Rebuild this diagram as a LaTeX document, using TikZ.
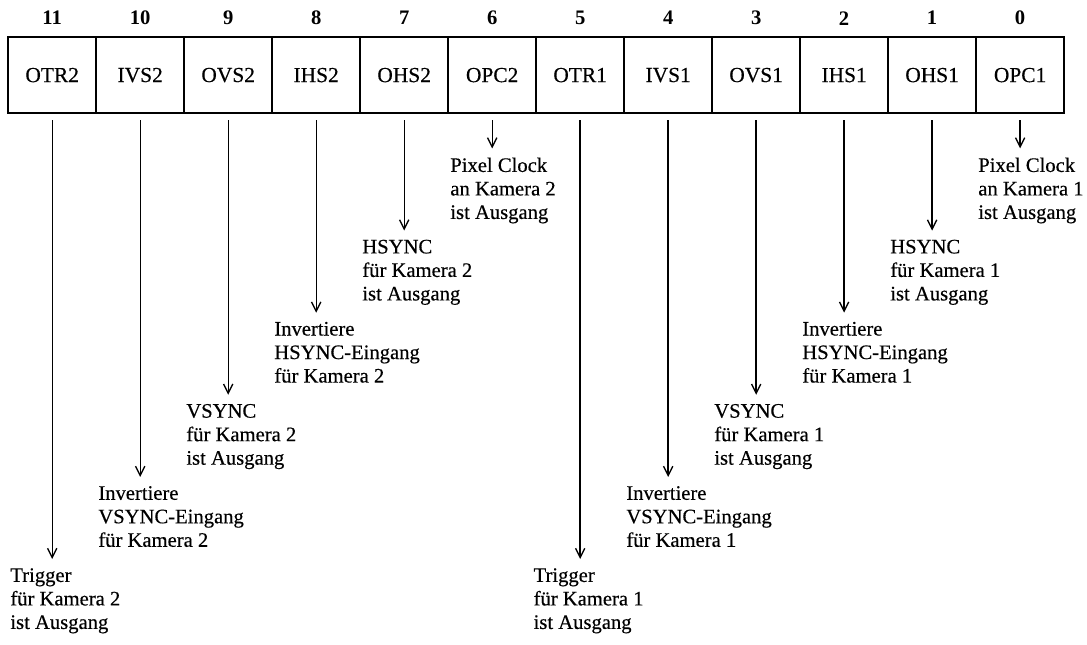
\documentclass[tikz,border=0pt]{standalone}
\usepackage{fontspec}
\setmainfont{Liberation Serif}
\newfontfamily\scanfont{Liberation Serif}[FakeBold=0.4]
\usetikzlibrary{arrows.meta, positioning}

\begin{document}
\begin{tikzpicture}[
    cell/.style={draw, line width=0.9pt, minimum width=1.5cm, minimum height=1.3cm, inner sep=0pt, font=\fontsize{10.4}{12}\selectfont\scanfont},
    bitnr/.style={font=\fontsize{10}{12}\selectfont\bfseries},
    desc/.style={anchor=north west, align=left, inner sep=0pt, font=\fontsize{10}{11.4}\selectfont\scanfont},
    arrow/.style={-{Straight Barb[length=4.5pt,width=4.5pt]}, line width=0.65pt, shorten >=1.5mm}
]
    \useasboundingbox (-0.14, 0.63) rectangle (18.39, -10.36);

    % Register
    \node[cell] (c11) at (0.75, -0.65) {OTR2};
    \node[cell] (c10) at (2.25, -0.65) {IVS2};
    \node[cell] (c9) at (3.75, -0.65) {OVS2};
    \node[cell] (c8) at (5.25, -0.65) {IHS2};
    \node[cell] (c7) at (6.75, -0.65) {OHS2};
    \node[cell] (c6) at (8.25, -0.65) {OPC2};
    \node[cell] (c5) at (9.75, -0.65) {OTR1};
    \node[cell] (c4) at (11.25, -0.65) {IVS1};
    \node[cell] (c3) at (12.75, -0.65) {OVS1};
    \node[cell] (c2) at (14.25, -0.65) {IHS1};
    \node[cell] (c1) at (15.75, -0.65) {OHS1};
    \node[cell] (c0) at (17.25, -0.65) {OPC1};

    % Bitnummern
    \node[bitnr] (n11) at (0.75, 0.32) {11};
    \node[bitnr] (n10) at (2.25, 0.32) {10};
    \node[bitnr] (n9) at (3.75, 0.32) {9};
    \node[bitnr] (n8) at (5.25, 0.32) {8};
    \node[bitnr] (n7) at (6.75, 0.32) {7};
    \node[bitnr] (n6) at (8.25, 0.32) {6};
    \node[bitnr] (n5) at (9.75, 0.32) {5};
    \node[bitnr] (n4) at (11.25, 0.32) {4};
    \node[bitnr] (n3) at (12.75, 0.32) {3};
    \node[bitnr] (n2) at (14.25, 0.32) {2};
    \node[bitnr] (n1) at (15.75, 0.32) {1};
    \node[bitnr] (n0) at (17.25, 0.32) {0};

    % Beschreibungen
    \node[desc] (t11) at (0.03, -9.05) {Trigger\\für Kamera 2\\ist Ausgang};
    \node[desc] (t10) at (1.53, -7.65) {Invertiere\\VSYNC-Eingang\\für Kamera 2};
    \node[desc] (t9) at (3.03, -6.25) {VSYNC\\für Kamera 2\\ist Ausgang};
    \node[desc] (t8) at (4.53, -4.85) {Invertiere\\HSYNC-Eingang\\für Kamera 2};
    \node[desc] (t7) at (6.03, -3.45) {HSYNC\\für Kamera 2\\ist Ausgang};
    \node[desc] (t6) at (7.53, -2.05) {Pixel Clock\\an Kamera 2\\ist Ausgang};
    \node[desc] (t5) at (8.95, -9.05) {Trigger\\für Kamera 1\\ist Ausgang};
    \node[desc] (t4) at (10.53, -7.65) {Invertiere\\VSYNC-Eingang\\für Kamera 1};
    \node[desc] (t3) at (12.03, -6.25) {VSYNC\\für Kamera 1\\ist Ausgang};
    \node[desc] (t2) at (13.53, -4.85) {Invertiere\\HSYNC-Eingang\\für Kamera 1};
    \node[desc] (t1) at (15.03, -3.45) {HSYNC\\für Kamera 1\\ist Ausgang};
    \node[desc] (t0) at (16.53, -2.05) {Pixel Clock\\an Kamera 1\\ist Ausgang};

    % Pfeile
    \draw[arrow] ([yshift=-1mm]c11.south) -- (c11.south |- t11.north);
    \draw[arrow] ([yshift=-1mm]c10.south) -- (c10.south |- t10.north);
    \draw[arrow] ([yshift=-1mm]c9.south) -- (c9.south |- t9.north);
    \draw[arrow] ([yshift=-1mm]c8.south) -- (c8.south |- t8.north);
    \draw[arrow] ([yshift=-1mm]c7.south) -- (c7.south |- t7.north);
    \draw[arrow] ([yshift=-1mm]c6.south) -- (c6.south |- t6.north);
    \draw[arrow] ([yshift=-1mm]c5.south) -- (c5.south |- t5.north);
    \draw[arrow] ([yshift=-1mm]c4.south) -- (c4.south |- t4.north);
    \draw[arrow] ([yshift=-1mm]c3.south) -- (c3.south |- t3.north);
    \draw[arrow] ([yshift=-1mm]c2.south) -- (c2.south |- t2.north);
    \draw[arrow] ([yshift=-1mm]c1.south) -- (c1.south |- t1.north);
    \draw[arrow] ([yshift=-1mm]c0.south) -- (c0.south |- t0.north);
\end{tikzpicture}
\end{document}
